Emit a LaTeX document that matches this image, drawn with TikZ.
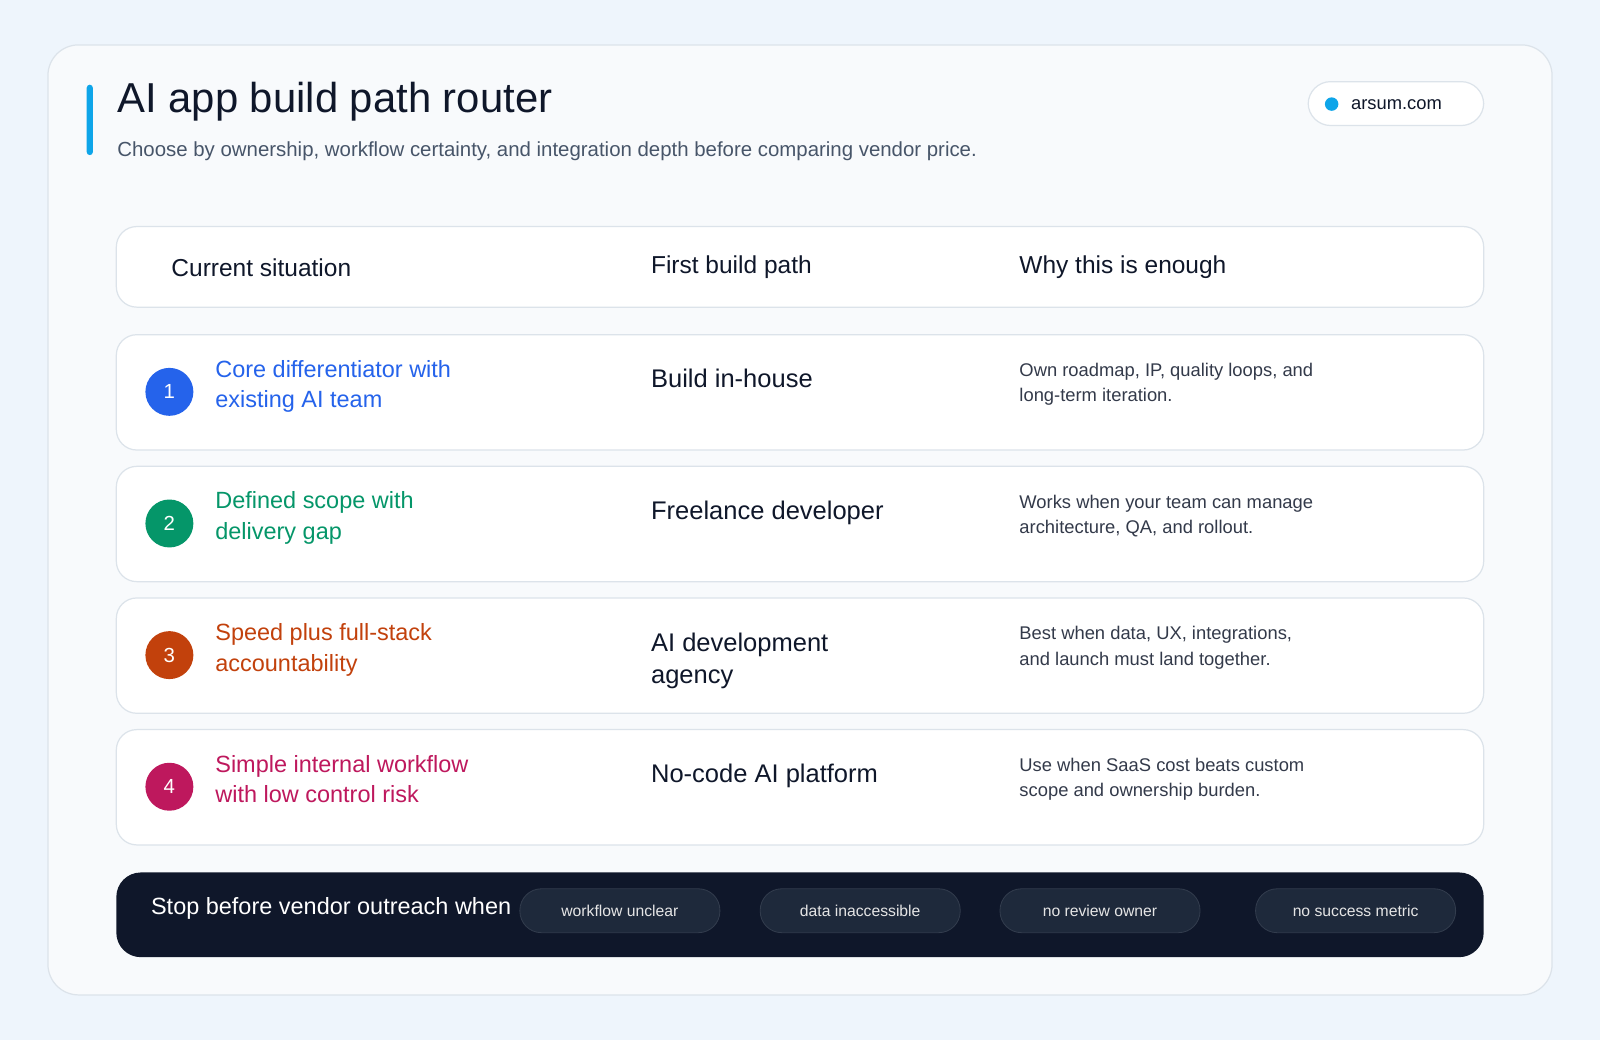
\documentclass[tikz,border=0pt]{standalone}
\usepackage{fontspec}
\setmainfont{Liberation Sans}
\usetikzlibrary{positioning}
\definecolor{pagebg}{HTML}{EEF5FC}
\definecolor{cardbg}{HTML}{F8FAFC}
\definecolor{lineclr}{HTML}{DCE3EA}
\definecolor{inkclr}{HTML}{0F172A}
\definecolor{subclr}{HTML}{475569}
\definecolor{accent}{HTML}{0EA5E9}
\definecolor{chipclr}{HTML}{1E293B}
\definecolor{rowA}{HTML}{2563EB}
\definecolor{rowB}{HTML}{059669}
\definecolor{rowC}{HTML}{C2410C}
\definecolor{rowD}{HTML}{BE185D}
\tikzset{
  rowbox/.style={draw=lineclr, fill=white, rounded corners=10pt, line width=0.6pt},
  numdot/.style={circle, minimum size=23.5pt, inner sep=0pt, text=white, font=\fontsize{10}{12}\selectfont},
  sitlabel/.style={anchor=west, align=left, font=\fontsize{11.5}{15}\selectfont},
  pathlabel/.style={anchor=west, align=left, text=inkclr, font=\fontsize{12.5}{16}\selectfont},
  whylabel/.style={anchor=west, align=left, text=inkclr!85, font=\fontsize{9}{12.3}\selectfont},
  headlabel/.style={anchor=west, text=inkclr, font=\fontsize{12}{14}\selectfont},
  chip/.style={draw=chipclr!70!white!30!chipclr, fill=chipclr, rounded corners=10.5pt, minimum width=98pt, minimum height=21.5pt, text=white!90!black, font=\fontsize{7.7}{9}\selectfont}
}
\begin{document}
\begin{tikzpicture}[x=0.5pt, y=-0.5pt]
  % page and card
  \useasboundingbox (0,0) rectangle (1568,1019);
  \fill[pagebg] (0,0) rectangle (1568,1019);
  \draw[lineclr, fill=cardbg, rounded corners=15pt, line width=0.6pt] (47,44) rectangle (1521,975);
  % title block
  \fill[accent, rounded corners=1.5pt] (85,83) rectangle (91,152);
  \node[anchor=west, text=inkclr, font=\fontsize{20.5}{24}\selectfont] (title) at (108,100) {AI app build path router};
  \node[anchor=west, text=subclr, font=\fontsize{10}{12}\selectfont] (subtitle) at (108,148) {Choose by ownership, workflow certainty, and integration depth before comparing vendor price.};
  \draw[lineclr, fill=white, rounded corners=11pt, line width=0.6pt] (1282,80) rectangle (1454,123);
  \fill[accent] (1305,102) circle (3.3pt);
  \node[anchor=west, text=inkclr, font=\fontsize{9}{11}\selectfont] (site) at (1317,103) {arsum.com};
  % header row
  \draw[rowbox] (114,222) rectangle (1454,301);
  \node[headlabel] (hsit) at (161,262) {Current situation};
  \node[headlabel] (hpath) at (631,262) {First build path};
  \node[headlabel] (hwhy) at (992,262) {Why this is enough};
  % rows
  \foreach \i/\y/\clr/\sit/\bpath/\why in {
    1/328/rowA/{Core differentiator with\\existing AI team}/{Build in-house}/{Own roadmap, IP, quality loops, and\\long-term iteration.},
    2/457/rowB/{Defined scope with\\delivery gap}/{Freelance developer}/{Works when your team can manage\\architecture, QA, and rollout.},
    3/586/rowC/{Speed plus full-stack\\accountability}/{AI development\\agency}/{Best when data, UX, integrations,\\and launch must land together.},
    4/715/rowD/{Simple internal workflow\\with low control risk}/{No-code AI platform}/{Use when SaaS cost beats custom\\scope and ownership burden.}}{
    \draw[rowbox] (114,\y) rectangle (1454,\y+113);
    \node[numdot, fill=\clr] (num\i) at (166,\y+56) {\i};
    \node[sitlabel, text=\clr, anchor=north west] (sit\i) at (204,\y+18) {\sit};
    \node[pathlabel, anchor=north west] (path\i) at (631,\y+27) {\bpath};
    \node[whylabel, anchor=north west] (why\i) at (992,\y+21) {\why};
  }
  % stop bar
  \fill[inkclr, rounded corners=12pt] (114,855) rectangle (1454,938);
  \node[anchor=west, text=white, font=\fontsize{11.5}{14}\selectfont] (stop) at (141,890) {Stop before vendor outreach when};
  \node[chip] (c1) at (607.5,892.5) {workflow unclear};
  \node[chip] (c2) at (843,892.5) {data inaccessible};
  \node[chip] (c3) at (1078,892.5) {no review owner};
  \node[chip] (c4) at (1328.5,892.5) {no success metric};
\end{tikzpicture}
\end{document}
